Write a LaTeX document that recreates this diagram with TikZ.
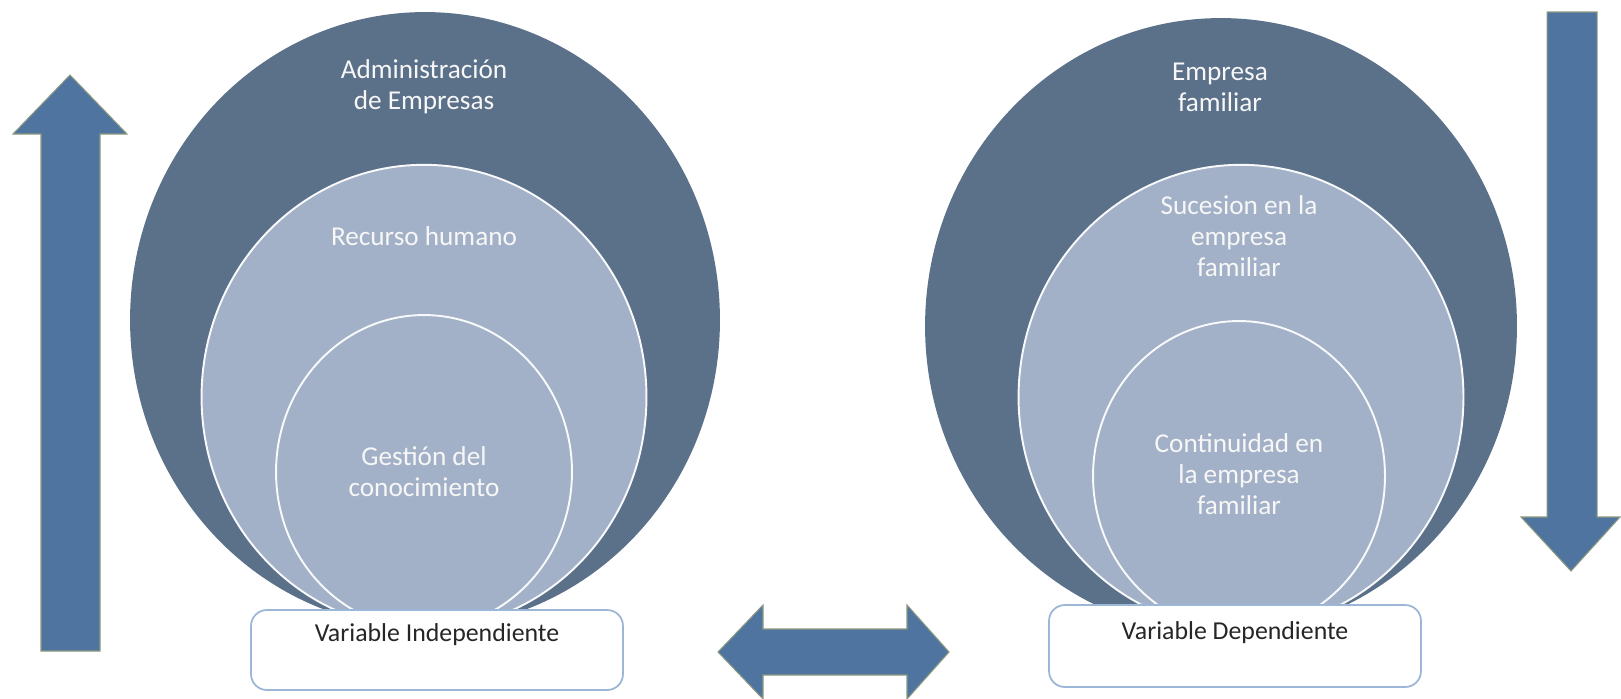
\documentclass[tikz,border=0pt]{standalone}
\usepackage{fontspec}
\setmainfont{Carlito}
\usetikzlibrary{shapes.geometric}
\definecolor{outerc}{HTML}{5B7089}
\definecolor{innerc}{HTML}{A2B1C7}
\definecolor{arrowc}{HTML}{4F74A0}
\definecolor{arrowedge}{HTML}{8C9A80}
\definecolor{boxedge}{HTML}{9BB6D6}
\begin{document}
\begin{tikzpicture}[x=0.02cm,y=-0.02cm,
  outerdisc/.style={ellipse, fill=outerc, inner sep=0pt, outer sep=0pt},
  innerdisc/.style={ellipse, fill=innerc, draw=white!92!innerc, line width=1.1pt, inner sep=0pt},
  lbl/.style={text=white!94!gray, align=center, font=\fontsize{15.5}{17.6}\selectfont},
  varbox/.style={draw=boxedge, line width=1pt, fill=white, rounded corners=9pt, minimum width=7.44cm},
  boxtext/.style={text=black!85, font=\fontsize{14.7}{17}\selectfont},
  blockarrow/.style={fill=arrowc, draw=arrowedge, line width=0.6pt, line join=miter}]
\useasboundingbox (0,0) rectangle (1621,698);

% side arrows
\fill[blockarrow] (70,75) -- (127,134) -- (100,134) -- (100,651) -- (41,651) -- (41,134) -- (13,134) -- cycle;
\fill[blockarrow] (1547,12) -- (1597,12) -- (1597,517) -- (1620,517) -- (1571,571) -- (1521,517) -- (1547,517) -- cycle;

% left group: Administracion de Empresas
\node[outerdisc, minimum width=11.8cm, minimum height=12.32cm] (adm) at (425,320) {};
\node[innerdisc, minimum width=8.9cm, minimum height=9.29cm] (rh) at (424,397) {};
\node[innerdisc, minimum width=5.92cm, minimum height=6.28cm] (gc) at (424,472) {};
\node[lbl] (admt) at (424,87) {Administración\\de Empresas};
\node[lbl] (rht) at (424,236) {Recurso humano};
\node[lbl] (gct) at (424,472) {Gestión del\\conocimiento};

% right group: Empresa familiar
\node[outerdisc, minimum width=11.84cm, minimum height=12.32cm] (ef) at (1221,326) {};
\node[innerdisc, minimum width=8.9cm, minimum height=9.29cm] (suc) at (1241,397) {};
\node[innerdisc, minimum width=5.84cm, minimum height=6.2cm] (cont) at (1239,476) {};
\node[lbl] (eft) at (1220,87) {Empresa\\familiar};
\node[lbl] (suct) at (1239,236) {Sucesion en la\\empresa\\familiar};
\node[lbl] (contt) at (1239,474) {Continuidad en\\la empresa\\familiar};

% variable boxes
\node[varbox, minimum height=1.6cm] (vi) at (437,650) {};
\node[boxtext] (vit) at (437,635) {Variable Independiente};
\node[varbox, minimum height=1.64cm] (vd) at (1235,646) {};
\node[boxtext] (vdt) at (1235,633) {Variable Dependiente};

% relation between the two variables
\fill[blockarrow] (718,652) -- (763,605) -- (763,629) -- (907,629) -- (907,605) -- (949,652)
  -- (907,699) -- (907,675) -- (763,675) -- (763,699) -- cycle;
\end{tikzpicture}
\end{document}
